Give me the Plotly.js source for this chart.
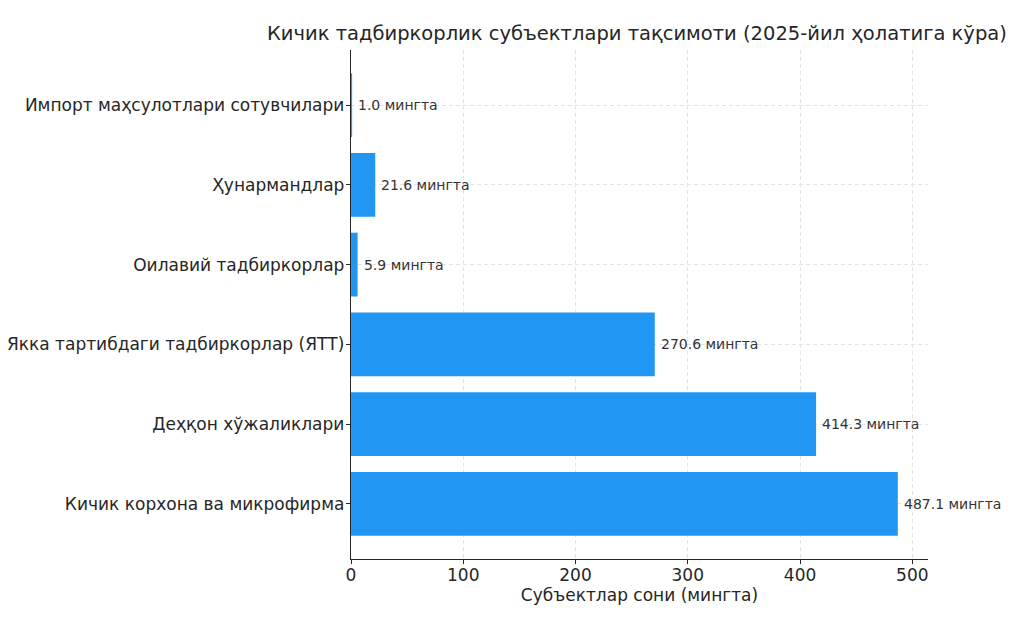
<!DOCTYPE html>
<html><head><meta charset="utf-8">
<script src="https://cdn.plot.ly/plotly-3.0.1.min.js"></script>
<style>html,body{margin:0;padding:0;background:#fff}#chart{width:1024px;height:630px}</style>
</head><body><div id="chart"></div>
<script>
const categories = [
  "Кичик корхона ва микрофирма",
  "Деҳқон хўжаликлари",
  "Якка тартибдаги тадбиркорлар (ЯТТ)",
  "Оилавий тадбиркорлар",
  "Ҳунармандлар",
  "Импорт маҳсулотлари сотувчилари"
];
const values = [487.1, 414.3, 270.6, 5.9, 21.6, 1.0];
const unit = "мингта";
const xTicks = [0, 100, 200, 300, 400, 500];
const FONT = "DejaVu Sans, sans-serif";

const trace = {
  type: "bar", orientation: "h",
  x: values, y: categories,
  width: 0.8,
  marker: {color: "#2196f3", line: {width: 0}},
  hoverinfo: "skip"
};
const annotations = values.map((v, i) => ({
  x: v, y: categories[i], xref: "x", yref: "y",
  text: v.toFixed(1) + " " + unit, showarrow: false,
  xanchor: "left", yanchor: "middle", xshift: 4,
  font: {family: FONT, size: 14, color: "#333"}
}));

const layout = {
  width: 1024, height: 630,
  margin: {l: 351, r: 96, t: 50, b: 71},
  paper_bgcolor: "#fff", plot_bgcolor: "#fff",
  font: {family: FONT, color: "#262626"},
  showlegend: false,
  title: {text: "Кичик тадбиркорлик субъектлари тақсимоти (2025-йил ҳолатига кўра)",
    font: {family: FONT, size: 19.5, color: "#262626"}, x: 0.622, xanchor: "center", y: 0.947, yanchor: "middle"},
  xaxis: {
    range: [0, 514], tickvals: xTicks, ticktext: xTicks.map(String),
    showgrid: true, gridcolor: "#e3e3e3", griddash: "4px,3px", gridwidth: 1,
    zeroline: false, showline: true, linecolor: "#262626", linewidth: 1.2,
    ticks: "outside", ticklen: 4, tickcolor: "#262626", ticklabelstandoff: -4,
    tickfont: {family: FONT, size: 17, color: "#262626"},
    title: {text: "Субъектлар сони (мингта)", font: {family: FONT, size: 17, color: "#262626"}, standoff: 2}
  },
  yaxis: {
    type: "category", categoryorder: "array", categoryarray: categories,
    range: [-0.69, 5.69],
    showgrid: true, gridcolor: "#e3e3e3", griddash: "4px,3px", gridwidth: 1,
    zeroline: false, showline: true, linecolor: "#262626", linewidth: 1.2,
    ticks: "outside", ticklen: 4, tickcolor: "#262626", ticklabelstandoff: -2,
    tickfont: {family: FONT, size: 17, color: "#262626"}
  },
  annotations: annotations
};
Plotly.newPlot("chart", [trace], layout, {displayModeBar: false, staticPlot: true});
</script></body></html>
